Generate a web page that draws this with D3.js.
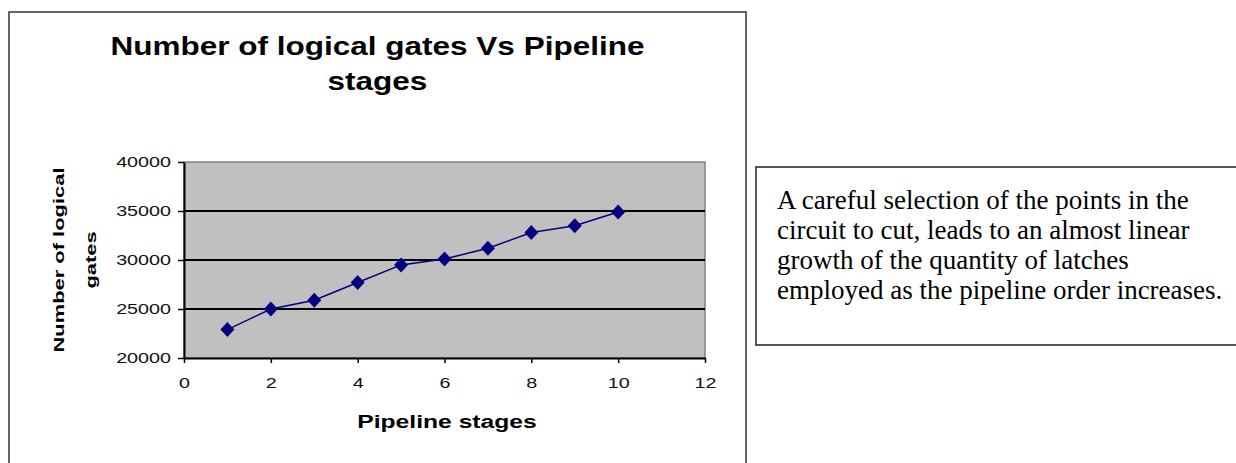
<!DOCTYPE html>
<html><head><meta charset="utf-8">
<script src="https://cdn.jsdelivr.net/npm/d3@7"></script>
<style>body{margin:0;background:#fff}svg{display:block}</style>
</head><body>
<svg id="c" width="1236" height="463"></svg>
<script>
const stages = [1,2,3,4,5,6,7,8,9,10];
const gates = [22900,25000,25900,27700,29500,30100,31200,32800,33500,34900];
const xTicks = [0,2,4,6,8,10,12];
const yTicks = [20000,25000,30000,35000,40000];
const gridValues = [25000,30000,35000];
const titleLines = ["Number of logical gates Vs Pipeline","stages"];
const yTitleLines = ["Number of logical","gates"];
const xTitle = "Pipeline stages";
const noteLines = ["A careful selection of the points in the","circuit to cut, leads to an almost linear","growth of the quantity of latches","employed as the pipeline order increases."];

const SANS = "Liberation Sans, Arial, sans-serif";
// widen text horizontally (the source image is a horizontally stretched raster)
function stretch(sel, k){
  sel.each(function(){
    const w = this.getComputedTextLength();
    d3.select(this).attr("textLength", w*k).attr("lengthAdjust","spacingAndGlyphs");
  });
}

const svg = d3.select("#c");
const x = d3.scaleLinear().domain([0,12]).range([184,705]);
const y = d3.scaleLinear().domain([20000,40000]).range([358,162]);

// outer chart border
svg.append("rect").attr("x",9).attr("y",12).attr("width",737).attr("height",470)
  .attr("fill","#fff").attr("stroke","#333").attr("stroke-width",1.5);

// title
const tt = svg.append("g").selectAll("text").data(titleLines).join("text")
  .attr("x",377.5).attr("y",(d,i)=>55+i*35).attr("text-anchor","middle")
  .attr("font-family",SANS).attr("font-weight","bold")
  .attr("font-size",25).attr("fill","#000")
  .text(d=>d);
stretch(tt,1.26);

// plot area
svg.append("rect").attr("x",x(0)).attr("y",y(40000)).attr("width",x(12)-x(0)).attr("height",y(20000)-y(40000))
  .attr("fill","#c0c0c0").attr("stroke","#808080").attr("stroke-width",1.5);

svg.append("g").selectAll("line").data(gridValues).join("line")
  .attr("x1",x(0)).attr("x2",x(12)).attr("y1",d=>y(d)).attr("y2",d=>y(d))
  .attr("stroke","#000").attr("stroke-width",2);

// axes
const yAxis = svg.append("g").attr("transform",`translate(${x(0)},0)`)
  .call(d3.axisLeft(y).tickValues(yTicks).tickSize(6).tickPadding(7).tickSizeOuter(0).tickFormat(d3.format("d")));
const xAxis = svg.append("g").attr("transform",`translate(0,${y(20000)})`)
  .call(d3.axisBottom(x).tickValues(xTicks).tickSize(5).tickPadding(15).tickSizeOuter(0).tickFormat(d3.format("d")));
[yAxis,xAxis].forEach(a=>{
  a.select(".domain").attr("stroke","#000").attr("stroke-width",2);
  a.selectAll(".tick line").attr("stroke","#000").attr("stroke-width",1.5);
  const t = a.selectAll(".tick text").attr("font-family",SANS)
   .attr("font-size",14.5).attr("fill","#111");
  stretch(t,1.36);
});

// line + markers
const line = d3.line().x((d,i)=>x(stages[i])).y(d=>y(d));
svg.append("path").datum(gates).attr("d",line).attr("fill","none")
  .attr("stroke","#000080").attr("stroke-width",1.5);
svg.append("g").selectAll("path").data(gates).join("path")
  .attr("transform",(d,i)=>`translate(${x(stages[i])},${y(d)})`)
  .attr("d","M0,-7.5L7,0L0,7.5L-7,0Z").attr("fill","#000080");

// axis titles
const xt = svg.append("text").attr("x",447).attr("y",428).attr("text-anchor","middle")
  .attr("font-family",SANS).attr("font-weight","bold")
  .attr("font-size",18).text(xTitle);
stretch(xt,1.37);

const yt = svg.append("g").selectAll("text").data(yTitleLines).join("text")
  .attr("transform",(d,i)=>`translate(${i===0?64:96},260) rotate(-90)`)
  .attr("text-anchor","middle")
  .attr("font-family",SANS).attr("font-weight","bold")
  .attr("font-size",15)
  .text(d=>d);
stretch(yt,1.46);

// note box
svg.append("rect").attr("x",756).attr("y",167).attr("width",500).attr("height",178)
  .attr("fill","#fff").attr("stroke","#222").attr("stroke-width",1.5);
svg.append("g").selectAll("text").data(noteLines).join("text")
  .attr("x",777).attr("y",(d,i)=>209+i*30)
  .attr("font-family","Liberation Serif, Times New Roman, serif").attr("font-size",27).attr("fill","#000")
  .text(d=>d);
</script>
</body></html>
